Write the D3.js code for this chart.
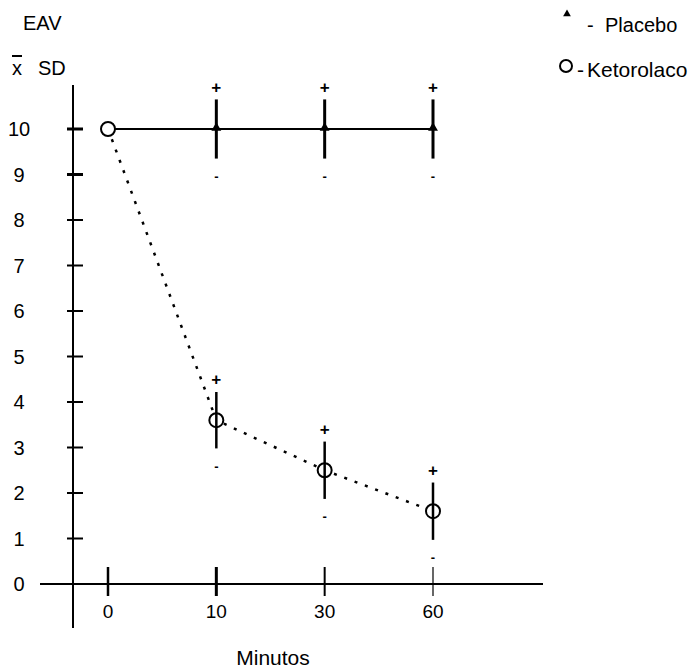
<!DOCTYPE html>
<html>
<head>
<meta charset="utf-8">
<script src="https://cdn.jsdelivr.net/npm/d3@7"></script>
<style>
  html, body { margin: 0; padding: 0; background: #fff; }
  svg { display: block; }
  text { font-family: "Liberation Sans", Arial, sans-serif; fill: #000; }
</style>
</head>
<body>
<svg id="chart" width="699" height="670"></svg>
<script>
// Minutes after dosing (categorical x positions)
const minutes = ["0", "10", "30", "60"];
// Visual analogue scale (EAV): means and standard deviations
const placeboMean = [10, 10, 10, 10];
const placeboSD = [0, 0.65, 0.65, 0.65];
const ketorolacoMean = [10, 3.6, 2.5, 1.6];
const ketorolacoSD = [0, 0.62, 0.63, 0.63];
// Y axis ticks
const yTicks = [0, 1, 2, 3, 4, 5, 6, 7, 8, 9, 10];

const svg = d3.select("#chart");

const x = d3.scalePoint().domain(minutes).range([108, 433]);
const y = d3.scaleLinear().domain([0, 10]).range([584, 129]);

const placebo = minutes.map((m, i) => ({ m, v: placeboMean[i], sd: placeboSD[i] }));
const keto = minutes.map((m, i) => ({ m, v: ketorolacoMean[i], sd: ketorolacoSD[i] }));

// ---- Axes ----
// Y axis line
svg.append("line")
  .attr("x1", 73).attr("x2", 73)
  .attr("y1", 85).attr("y2", 628)
  .attr("stroke", "#000").attr("stroke-width", 2);

// X axis line
svg.append("line")
  .attr("x1", 40).attr("x2", 543)
  .attr("y1", y(0)).attr("y2", y(0))
  .attr("stroke", "#000").attr("stroke-width", 2);

// Y ticks and labels
const yt = svg.append("g").selectAll("g").data(yTicks).join("g");
yt.filter(d => d > 0).append("line")
  .attr("x1", 67).attr("x2", 83)
  .attr("y1", d => y(d)).attr("y2", d => y(d))
  .attr("stroke", "#000").attr("stroke-width", d => d >= 9 ? 3 : 2);
yt.append("text")
  .attr("x", 19).attr("y", d => y(d))
  .attr("text-anchor", "middle")
  .attr("dominant-baseline", "central")
  .attr("font-size", 20)
  .text(d => d);

// X ticks (crossing the axis) and labels
const xt = svg.append("g").selectAll("g").data(minutes).join("g");
xt.append("line")
  .attr("x1", d => x(d)).attr("x2", d => x(d))
  .attr("y1", y(0) - 17).attr("y2", y(0) + 12)
  .attr("stroke", "#000")
  .attr("stroke-width", (d, i) => [2.5, 3, 2, 1.2][i]);
xt.append("text")
  .attr("x", d => x(d)).attr("y", 618)
  .attr("text-anchor", "middle")
  .attr("font-size", 19)
  .text(d => d);

// Axis titles
svg.append("text").attr("x", 23).attr("y", 30).attr("font-size", 20).text("EAV");
svg.append("text").attr("x", 12).attr("y", 75).attr("font-size", 20)
  .style("text-decoration", "overline").text("x");
svg.append("text").attr("x", 38).attr("y", 75).attr("font-size", 20).text("SD");
svg.append("text").attr("x", 273).attr("y", 665)
  .attr("text-anchor", "middle").attr("font-size", 21).text("Minutos");

// ---- Series lines ----
const line = d3.line().x(d => x(d.m)).y(d => y(d.v));

svg.append("path")
  .datum(placebo)
  .attr("d", line)
  .attr("fill", "none")
  .attr("stroke", "#000")
  .attr("stroke-width", 2);

svg.append("path")
  .datum(keto)
  .attr("d", line)
  .attr("fill", "none")
  .attr("stroke", "#000")
  .attr("stroke-width", 2.5)
  .attr("stroke-dasharray", "3,8");

// ---- Markers ----
const tri = d3.symbol().type(d3.symbolTriangle).size(42);
svg.append("g").selectAll("path").data(placebo).join("path")
  .attr("d", tri)
  .attr("transform", d => `translate(${x(d.m)},${y(d.v) - 1})`)
  .attr("fill", "#000");

svg.append("g").selectAll("circle").data(keto).join("circle")
  .attr("cx", d => x(d.m)).attr("cy", d => y(d.v))
  .attr("r", 7)
  .attr("fill", "#fff")
  .attr("stroke", "#000")
  .attr("stroke-width", 2);

// ---- Error bars with +/- markers ----
function errorBars(data, width) {
  const g = svg.append("g");
  const d2 = data.filter(d => d.sd > 0);
  g.selectAll("line").data(d2).join("line")
    .attr("x1", d => x(d.m)).attr("x2", d => x(d.m))
    .attr("y1", d => y(d.v + d.sd)).attr("y2", d => y(d.v - d.sd))
    .attr("stroke", "#000").attr("stroke-width", width);
  g.selectAll("text.plus").data(d2).join("text")
    .attr("class", "plus")
    .attr("x", d => x(d.m)).attr("y", d => y(d.v + d.sd) - 12)
    .attr("text-anchor", "middle")
    .attr("dominant-baseline", "central")
    .attr("font-size", 17).attr("font-weight", "bold")
    .text("+");
  g.selectAll("text.minus").data(d2).join("text")
    .attr("class", "minus")
    .attr("x", d => x(d.m)).attr("y", d => y(d.v - d.sd) + 18)
    .attr("text-anchor", "middle")
    .attr("dominant-baseline", "central")
    .attr("font-size", 13).attr("font-weight", "bold")
    .text("-");
}
errorBars(placebo, 3);
errorBars(keto, 2.5);

// ---- Legend ----
svg.append("path")
  .attr("d", d3.symbol().type(d3.symbolTriangle).size(26)())
  .attr("transform", "translate(567,14)")
  .attr("fill", "#000");
svg.append("text").attr("x", 587).attr("y", 32).attr("font-size", 20).text("-");
svg.append("text").attr("x", 605).attr("y", 32).attr("font-size", 20).text("Placebo");

svg.append("circle")
  .attr("cx", 566).attr("cy", 66).attr("r", 6)
  .attr("fill", "none").attr("stroke", "#000").attr("stroke-width", 2);
svg.append("text").attr("x", 577).attr("y", 77).attr("font-size", 21).text("-");
svg.append("text").attr("x", 587).attr("y", 77).attr("font-size", 21).text("Ketorolaco");
</script>
</body>
</html>
